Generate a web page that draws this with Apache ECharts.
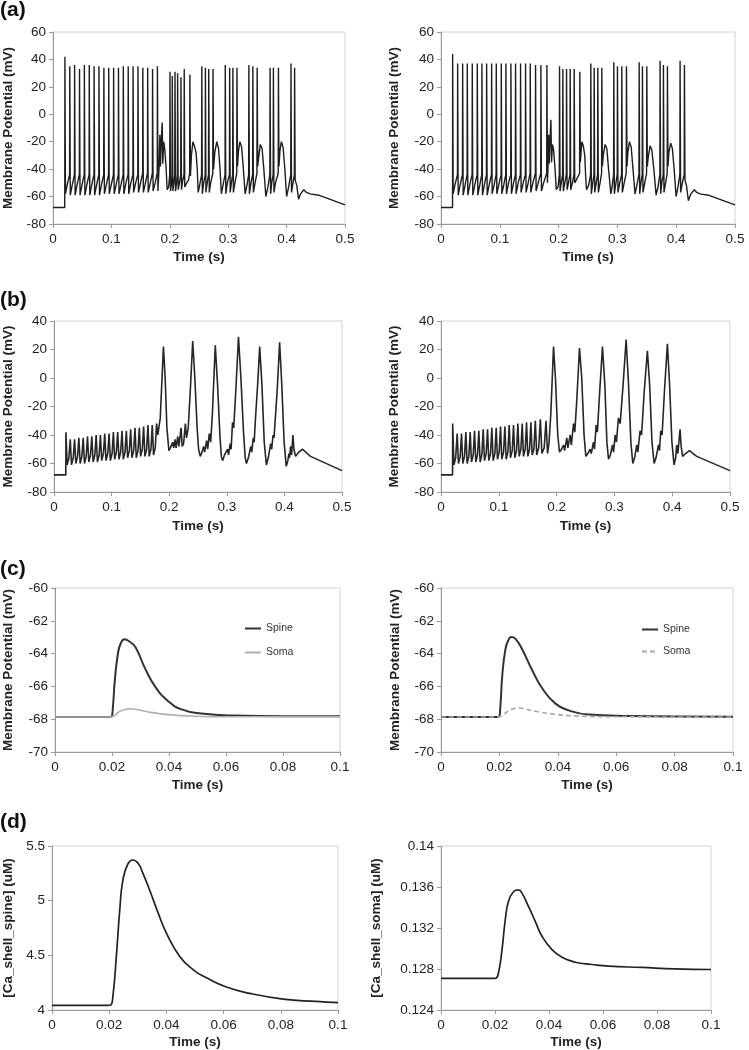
<!DOCTYPE html>
<html>
  <head>
    <meta charset="UTF-8" />
    <title>Spine model traces</title>
    <script src="https://cdn.jsdelivr.net/npm/echarts@6.0.0/dist/echarts.min.js"></script>
    <style>
      body { margin: 0; background: #fff; }
    </style>
  </head>
  <body>
    <div id="chart" style="width: 749px; height: 1050px"></div>
  </body>
  <script>
// all traces are [time in ms, value]

// (a) membrane potential, left / right
const aLeftTrace = [
  [0,-68],[20.1,-68],[20.2,-46],[20.4,42],[21.3,-58],[24.5,-51],
  [28.4,-44],[28.7,35],[29.6,-59],[33.2,-51],
  [36.7,-44],[37.0,36],[37.9,-59],[41.5,-51],
  [45.1,-44],[45.4,33],[46.3,-59],[49.9,-51],
  [53.4,-44],[53.7,36],[54.6,-59],[58.2,-51],
  [61.8,-44],[62.1,36],[63.0,-59],[66.6,-51],
  [70.1,-44],[70.4,35],[71.3,-59],[74.9,-51],
  [78.4,-44],[78.7,35],[79.6,-59],[83.2,-51],
  [86.8,-44],[87.1,34],[88.0,-58],[91.6,-51],
  [95.1,-44],[95.4,34],[96.3,-58],[99.9,-51],
  [103.5,-44],[103.8,34],[104.7,-58],[108.3,-51],
  [111.8,-44],[112.1,34],[113.0,-58],[116.6,-51],
  [120.1,-44],[120.4,35],[121.3,-58],[124.9,-50],
  [128.5,-44],[128.8,35],[129.7,-58],[133.3,-50],
  [136.8,-44],[137.1,35],[138.0,-57],[141.6,-50],
  [145.2,-44],[145.5,35],[146.4,-57],[150.0,-50],
  [153.5,-43],[153.8,34],[154.7,-57],[158.3,-50],
  [161.8,-43],[162.1,34],[163.0,-57],[166.6,-50],
  [170.2,-43],[170.5,33],[171.4,-56],[175.0,-50],
  [178.5,-43],[178.8,35],[179.7,-56],
  [181.5,-40],[183.0,-15],[184.0,-38],[185.5,-18],[187.0,-6],[188.0,-36],[189.5,-20],[191.5,-26],[193.5,-38],[195.5,-55],[198.0,-53],
  [199.9,-44],[200.3,31],[201.2,-56],[203.0,-50],
  [203.9,-44],[204.3,28],[205.2,-56],[207.0,-50],
  [208.5,-44],[208.9,31],[209.8,-56],[211.6,-50],
  [213.0,-44],[213.4,30],[214.3,-55],[216.5,-50],
  [218.7,-44],[219.1,27],[220.0,-55],[222.0,-49],
  [224.3,-44],[224.7,33],[225.6,-53],[229.0,-50],[232.0,-48],
  [234.0,-43],[234.4,29],[235.3,-45],[237.0,-30],[239.5,-20],[242.0,-23],[245.0,-28],[247.0,-40],[248.6,-57],[251.0,-52],
  [254.4,-44],[254.8,35],[255.7,-58],[258.0,-50],
  [260.6,-44],[261.0,34],[261.9,-57],[264.0,-50],
  [266.3,-44],[266.7,33],[267.6,-57],[270.0,-50],
  [273.6,-43],[274.0,33],[274.9,-40],[277.0,-28],[280.5,-20],[283.5,-25],[286.0,-40],[288.3,-58],[291.0,-52],
  [294.6,-44],[295.0,36],[295.9,-58],[298.5,-50],
  [302.1,-44],[302.5,34],[303.4,-57],[305.5,-50],
  [307.6,-44],[308.0,34],[308.9,-57],[311.5,-50],
  [314.6,-43],[315.0,34],[315.9,-38],[317.5,-27],[320.0,-20],[323.0,-24],[326.0,-40],[329.0,-58],[332.0,-52],
  [335.0,-44],[335.4,36],[336.3,-58],[339.0,-50],
  [341.8,-44],[342.2,35],[343.1,-57],[346.0,-50],
  [349.2,-43],[349.6,34],[350.5,-38],[352.0,-32],[355.0,-22],[358.0,-25],[361.0,-40],[364.5,-60],[368.0,-53],
  [371.3,-44],[371.7,34],[372.6,-58],[374.5,-50],
  [377.0,-44],[377.4,34],[378.3,-57],[381.0,-50],
  [385.6,-43],[386.0,34],[386.9,-38],[388.5,-27],[391.0,-20],[394.0,-24],[397.0,-40],[400.0,-60],[403.5,-53],
  [407.1,-44],[407.5,37],[408.4,-57],[411.0,-50],
  [413.3,-44],[413.7,34],[414.6,-48],[417.5,-52],[420.5,-62],[424.0,-58],[429.5,-55],[434.0,-57],[440.0,-58],[455.0,-59],[500.0,-66]
];

const aRightTrace = [
  [0,-68],[19.6,-68],[19.7,-46],[19.8,44],[20.7,-58],[24.0,-51],
  [28.0,-44],[28.3,37],[29.2,-59],[32.8,-51],
  [36.5,-44],[36.8,37],[37.7,-59],[41.3,-51],
  [44.4,-44],[44.7,37],[45.6,-59],[49.2,-51],
  [52.9,-44],[53.2,37],[54.1,-59],[57.7,-51],
  [61.4,-44],[61.7,37],[62.6,-59],[66.2,-51],
  [69.3,-44],[69.6,37],[70.5,-59],[74.1,-51],
  [77.3,-44],[77.6,37],[78.5,-59],[82.1,-51],
  [85.8,-44],[86.1,37],[87.0,-58],[90.6,-51],
  [93.7,-44],[94.0,37],[94.9,-58],[98.5,-51],
  [102.2,-44],[102.5,37],[103.4,-58],[107.0,-51],
  [110.1,-44],[110.4,37],[111.3,-58],[114.9,-50],
  [118.6,-44],[118.9,37],[119.8,-58],[123.4,-50],
  [126.5,-44],[126.8,37],[127.7,-58],[131.3,-50],
  [135.0,-44],[135.3,37],[136.2,-57],[139.8,-50],
  [143.5,-44],[143.8,37],[144.7,-57],[148.3,-50],
  [151.5,-43],[151.8,37],[152.7,-57],[156.3,-50],
  [160.5,-43],[160.8,36],[161.7,-56],[165.3,-50],
  [169.6,-43],[169.9,36],[170.8,-56],[174.5,-50],
  [179.8,-43],[180.1,36],[181.0,-50],
  [182.0,-38],[183.0,-15],[184.0,-36],[185.5,-18],[186.9,-4],[188.0,-35],[189.5,-22],[191.5,-26],[194.0,-40],[196.0,-55],[199.0,-53],
  [201.2,-44],[201.6,35],[202.5,-56],[204.5,-50],
  [206.8,-44],[207.2,33],[208.1,-56],[210.5,-50],
  [213.1,-44],[213.5,33],[214.4,-55],[216.8,-50],
  [219.3,-44],[219.7,33],[220.6,-55],[223.5,-50],
  [226.1,-44],[226.5,33],[227.4,-50],[230.0,-48],[233.0,-49],
  [235.7,-43],[236.1,31],[237.0,-35],[239.5,-20],[242.0,-23],[244.5,-30],[246.0,-45],[247.5,-55],[251.0,-52],
  [254.4,-44],[254.8,37],[255.7,-58],[258.0,-50],
  [260.1,-44],[260.5,34],[261.4,-57],[264.0,-50],
  [266.3,-44],[266.7,34],[267.6,-57],[270.5,-50],
  [273.1,-43],[273.5,34],[274.4,-38],[276.0,-30],[279.0,-22],[282.0,-25],[285.0,-40],[288.8,-58],[291.0,-53],
  [293.5,-44],[293.9,38],[294.8,-58],[297.5,-50],
  [299.7,-44],[300.1,35],[301.0,-57],[304.0,-50],
  [307.1,-44],[307.5,35],[308.4,-57],[311.5,-50],
  [315.0,-43],[315.4,35],[316.3,-38],[318.0,-27],[320.5,-20],[323.5,-24],[326.5,-40],[330.0,-58],[333.0,-52],
  [336.6,-44],[337.0,38],[337.9,-58],[340.0,-50],
  [342.2,-44],[342.6,35],[343.5,-57],[346.5,-50],
  [349.6,-43],[350.0,35],[350.9,-38],[352.5,-31],[355.6,-23],[358.5,-26],[362.0,-40],[365.8,-59],[369.0,-53],
  [372.2,-44],[372.6,39],[373.5,-58],[375.5,-50],
  [377.9,-44],[378.3,36],[379.2,-57],[382.0,-50],
  [384.7,-43],[385.1,35],[386.0,-38],[387.5,-28],[390.7,-21],[393.5,-25],[396.5,-40],[399.8,-60],[403.0,-53],
  [406.2,-44],[406.6,39],[407.5,-57],[410.5,-50],
  [413.6,-44],[414.0,36],[414.9,-48],[417.5,-52],[420.7,-63],[425.0,-58],[430.9,-55],[435.0,-57],[440.5,-58],[454.7,-59],[500.0,-66]
];

// (b) membrane potential, left / right
const bLeftTrace = [
  [0,-68],[20.5,-68],[20.7,-38],[22.9,-61],[25.9,-56],
  [28.2,-43],[30.4,-61],[33.4,-56],
  [35.7,-43],[37.9,-60],[40.9,-55],
  [43.2,-42],[45.4,-60],[48.4,-55],
  [50.7,-42],[52.9,-60],[55.9,-55],
  [58.2,-41],[60.4,-59],[63.4,-54],
  [65.7,-41],[67.9,-59],[70.9,-54],
  [73.2,-40],[75.4,-59],[78.4,-54],
  [80.6,-40],[82.8,-58],[85.8,-53],
  [88.1,-39],[90.3,-58],[93.3,-53],
  [95.6,-39],[97.8,-58],[100.8,-53],
  [103.1,-38],[105.3,-57],[108.3,-52],
  [110.6,-38],[112.8,-57],[115.8,-52],
  [118.1,-37],[120.3,-57],[123.3,-52],
  [125.6,-37],[127.8,-56],[130.8,-51],
  [133.1,-36],[135.3,-56],[138.3,-51],
  [140.6,-35],[142.8,-56],[145.8,-51],
  [148.1,-35],[150.3,-55],[153.3,-50],
  [155.6,-34],[157.8,-55],[160.8,-50],
  [163.1,-33],[165.3,-55],[168.3,-50],
  [170.6,-33],[172.8,-54],[175.8,-49],
  [178.1,-32],[180.3,-40],[182.0,-35],[184.5,-28],[187.0,-5],[190.0,22],[193.0,0],[196.0,-35],[199.5,-51],
  [202.0,-49],[206.2,-45],[207.8,-49],[210.3,-43],[212.0,-49],[214.9,-41],[216.8,-48],[220.6,-35],[222.5,-48],[225.0,-46],[228.1,-32],[230.0,-42],[233.0,-35],[236.5,-10],[240.8,26],[244.5,0],[248.5,-35],[251.0,-50],[254.0,-55],
  [257.0,-52],[259.8,-48],[261.5,-52],[265.0,-44],[266.8,-50],[269.6,-39],[272.0,-45],[275.0,-25],[280.0,23],[284.0,-5],[288.0,-40],[290.5,-55],[292.6,-58],
  [296.0,-54],[301.3,-50],[303.0,-54],[305.9,-46],[307.5,-50],[309.9,-31],[312.0,-35],[315.5,-10],[320.3,29],[324.5,0],[329.0,-38],[332.0,-56],[334.1,-60],
  [337.5,-56],[341.6,-48],[343.3,-52],[346.0,-42],[347.5,-45],[350.0,-27],[353.5,-5],[357.1,22],[361.0,-5],[365.0,-45],[368.7,-61],
  [372.0,-56],[376.2,-46],[378.0,-50],[380.2,-40],[382.0,-42],[384.8,-25],[388.0,-5],[391.7,25],[395.5,-5],[399.5,-45],[403.2,-62],
  [406.0,-58],[407.8,-53],[409.0,-56],[410.7,-48],[412.5,-54],[414.7,-40],[416.5,-50],[419.4,-55],[425.0,-52],[431.5,-50],[445.3,-55],[500.0,-65]
];

const bRightTrace = [
  [0,-68],[20.0,-68],[20.2,-32],[22.4,-61],[25.4,-56],
  [28.0,-39],[30.2,-60],[33.2,-55],
  [35.5,-39],[37.7,-60],[40.7,-55],
  [43.0,-38],[45.2,-60],[48.2,-55],
  [50.5,-38],[52.7,-59],[55.7,-54],
  [58.0,-37],[60.2,-59],[63.2,-54],
  [65.5,-37],[67.7,-59],[70.7,-54],
  [73.0,-36],[75.2,-58],[78.2,-53],
  [80.5,-36],[82.7,-58],[85.7,-53],
  [88.0,-35],[90.2,-58],[93.2,-53],
  [95.5,-35],[97.7,-57],[100.7,-52],
  [103.0,-34],[105.2,-57],[108.2,-52],
  [110.5,-34],[112.7,-57],[115.7,-52],
  [118.0,-33],[120.2,-56],[123.2,-51],
  [125.5,-33],[127.7,-56],[130.7,-51],
  [133.0,-32],[135.2,-55],[138.2,-50],
  [140.5,-32],[142.7,-55],[145.7,-50],
  [148.0,-31],[150.2,-55],[153.2,-50],
  [155.5,-31],[157.7,-54],[160.7,-50],
  [163.2,-30],[165.6,-54],[169.0,-49],
  [171.9,-29],[174.5,-53],[178.5,-49],
  [181.7,-30],[184.3,-53],[187.0,-45],[190.0,-25],[194.7,22],[198.0,0],[202.0,-40],[205.0,-52],
  [208.5,-50],[212.0,-47],[213.8,-51],[217.7,-42],[219.5,-49],[223.5,-40],[225.5,-47],[229.3,-32],[231.5,-38],[235.0,-15],[239.6,21],[243.5,0],[247.5,-40],[250.6,-55],
  [254.0,-53],[258.0,-50],[260.0,-53],[263.8,-45],[265.6,-50],[268.4,-33],[270.5,-38],[274.5,-10],[279.4,22],[283.5,-5],[287.0,-45],[289.8,-57],
  [293.0,-54],[296.7,-47],[298.5,-52],[301.3,-40],[303.5,-45],[307.0,-28],[310.0,-32],[315.0,-5],[320.3,27],[324.5,-5],[328.5,-45],[331.8,-60],
  [335.0,-56],[338.7,-47],[340.5,-52],[344.5,-37],[347.0,-40],[351.5,-10],[357.1,19],[361.0,-5],[365.0,-45],[368.7,-60],
  [372.0,-56],[376.2,-47],[378.0,-51],[380.2,-37],[382.5,-40],[386.5,-10],[391.7,24],[395.5,-5],[399.5,-45],[403.2,-61],
  [406.0,-56],[407.8,-47],[409.8,-53],[413.6,-36],[415.5,-48],[418.0,-55],[423.0,-53],[429.7,-51],[442.4,-55],[500.0,-65]
];

// (c) EPSP in spine and soma
const cLeftSpine = [[0,-67.87],[19.0,-67.87],[19.8,-67.85],[20.3,-67.3],[21.0,-65.6],[22.0,-64.1],[23.0,-63.4],[24.4,-63.13],[26.0,-63.25],[28.2,-63.6],[31.6,-64.9],[35.1,-66.0],[39.7,-66.9],[44.4,-67.4],[51.3,-67.65],[62.9,-67.78],[80.3,-67.82],[100,-67.82]];
const cLeftSoma = [[0,-67.87],[19.0,-67.87],[19.8,-67.86],[21.0,-67.75],[23.0,-67.5],[26.4,-67.36],[29.0,-67.42],[32.8,-67.56],[39.7,-67.72],[46.7,-67.8],[60,-67.85],[100,-67.85]];
const cRightSpine = [[0,-67.87],[19.0,-67.87],[19.8,-67.85],[20.3,-67.3],[21.0,-65.3],[22.0,-63.8],[23.0,-63.2],[24.1,-62.99],[25.5,-63.1],[27.7,-63.7],[31.2,-65.0],[34.6,-66.1],[39.2,-67.05],[43.7,-67.46],[50.6,-67.72],[63.1,-67.8],[100,-67.85]];
const cRightSoma = [[0,-67.87],[19.0,-67.87],[19.8,-67.86],[21.5,-67.7],[23.5,-67.45],[26.6,-67.32],[29.0,-67.38],[32.3,-67.52],[39.2,-67.7],[46.0,-67.8],[60,-67.85],[100,-67.87]];

// (d) calcium in shell
const dSpineCa = [[0,4.042],[19.5,4.042],[20.5,4.045],[21.3,4.127],[22.5,4.49],[23.7,4.917],[24.8,5.19],[26.6,5.34],[28.3,5.372],[30.1,5.342],[31.8,5.25],[34.1,5.10],[37.1,4.888],[40,4.704],[44.6,4.492],[49.3,4.37],[54,4.294],[61,4.21],[69.1,4.152],[80.8,4.10],[92.4,4.078],[100,4.067]];
const dSomaCa = [[0,0.12708],[19.3,0.12708],[20.3,0.1271],[21.3,0.12763],[22.6,0.1299],[23.8,0.1328],[25,0.1346],[26.9,0.13556],[28.7,0.13572],[30,0.1354],[32.4,0.1341],[34.9,0.13265],[37.4,0.13119],[41.1,0.12989],[44.8,0.12915],[49.7,0.12866],[55.9,0.12844],[62,0.12828],[74.4,0.12815],[86.7,0.12802],[100,0.12795]];

const toSec = arr => arr.map(p => [p[0] / 1000, p[1]]);

const FONT = "'Liberation Sans', Arial, sans-serif";
const vName = 'Membrane Potential (mV)';

// one entry per panel: grid box + axis setup
const panels = [
  { box: [52, 32, 293, 192], x: [0.5, 0.1], y: [-80, 60, 20], name: vName, gap: 38, xGap: 26 },
  { box: [441, 32, 294, 192], x: [0.5, 0.1], y: [-80, 60, 20], name: vName, gap: 40, xGap: 26 },
  { box: [52, 321, 290, 171], x: [0.5, 0.1], y: [-80, 40, 20], name: vName, gap: 39, xGap: 27 },
  { box: [441, 321, 289, 171], x: [0.5, 0.1], y: [-80, 40, 20], name: vName, gap: 40, xGap: 27 },
  { box: [52, 588, 288, 164], x: [0.1, 0.02], y: [-70, -60, 2], name: vName, gap: 40, xGap: 26 },
  { box: [441, 588, 292, 164], x: [0.1, 0.02], y: [-70, -60, 2], name: vName, gap: 39, xGap: 26 },
  { box: [52, 846, 286, 165], x: [0.1, 0.02], y: [4, 5.5, 0.5], name: '[Ca_shell_spine] (uM)', gap: 37, xGap: 25 },
  { box: [441, 846, 270, 165], x: [0.1, 0.02], y: [0.124, 0.14, 0.004], name: '[Ca_shell_soma] (uM)', gap: 58, xGap: 25 }
];

const axisLine = { onZero: false, lineStyle: { color: '#9a9a9a', width: 1 } };
const axisTick = { length: 4, lineStyle: { color: '#9a9a9a' } };
const labelStyle = { color: '#222', fontSize: 13.5, fontFamily: FONT };
const nameStyle = { color: '#222', fontSize: 13.5, fontWeight: 'bold', fontFamily: FONT };

const grid = panels.map(p => ({
  left: p.box[0], top: p.box[1], width: p.box[2], height: p.box[3],
  show: true, borderColor: '#d2d2d2', borderWidth: 1, backgroundColor: 'transparent'
}));

const xAxis = panels.map((p, i) => ({
  type: 'value', gridIndex: i, min: 0, max: p.x[0], interval: p.x[1],
  axisLine, axisTick, splitLine: { show: false },
  axisLabel: Object.assign({ margin: 8 }, labelStyle),
  name: 'Time (s)', nameLocation: 'middle', nameGap: p.xGap, nameTextStyle: nameStyle
}));

const yAxis = panels.map((p, i) => ({
  type: 'value', gridIndex: i, min: p.y[0], max: p.y[1], interval: p.y[2],
  axisLine, axisTick, splitLine: { show: false },
  axisLabel: Object.assign({ margin: 7 }, labelStyle),
  name: p.name, nameLocation: 'middle', nameGap: p.gap, nameTextStyle: nameStyle
}));

function trace(name, idx, data, color, width, type) {
  return {
    name, type: 'line', xAxisIndex: idx, yAxisIndex: idx,
    data: toSec(data), symbol: 'none', showSymbol: false,
    lineStyle: { color, width, type: type || 'solid' },
    itemStyle: { color },
    smooth: false
  };
}

function smoothTrace(name, idx, data, color, width, type) {
  const s = trace(name, idx, data, color, width, type);
  s.smooth = 0.5;
  return s;
}

const series = [
  trace('aL', 0, aLeftTrace, '#1e1e1e', 1.4),
  trace('aR', 1, aRightTrace, '#1e1e1e', 1.4),
  trace('bL', 2, bLeftTrace, '#262626', 1.6),
  trace('bR', 3, bRightTrace, '#262626', 1.6),
  smoothTrace('Spine', 4, cLeftSpine, '#333', 2),
  smoothTrace('Soma', 4, cLeftSoma, '#b0b0b0', 1.6),
  smoothTrace('Spine ', 5, cRightSpine, '#333', 2),
  smoothTrace('Soma ', 5, cRightSoma, '#a8a8a8', 1.6, [5, 3]),
  smoothTrace('dL', 6, dSpineCa, '#222', 1.7),
  smoothTrace('dR', 7, dSomaCa, '#222', 1.7)
];

const legendBase = {
  orient: 'vertical', itemWidth: 16, itemHeight: 10, selectedMode: false,
  itemStyle: { opacity: 0 },
  textStyle: { fontSize: 10.5, color: '#333', fontFamily: FONT },
  formatter: n => n.trim()
};

const panelLabel = (text, top) => ({
  type: 'text', left: 0, top,
  style: { text, font: 'bold 21px ' + FONT, fill: '#111' }
});

let myChart = echarts.init(document.getElementById('chart'));
myChart.setOption({
  animation: false,
  backgroundColor: '#fff',
  grid, xAxis, yAxis, series,
  legend: [
    Object.assign({ data: ['Spine', 'Soma'], left: 239, top: 618, itemGap: 13 }, legendBase),
    Object.assign({ data: ['Spine ', 'Soma '], left: 636, top: 619, itemGap: 11 }, legendBase)
  ],
  graphic: [
    panelLabel('(a)', 0),
    panelLabel('(b)', 290),
    panelLabel('(c)', 559),
    panelLabel('(d)', 812)
  ]
});
  </script>
</html>
